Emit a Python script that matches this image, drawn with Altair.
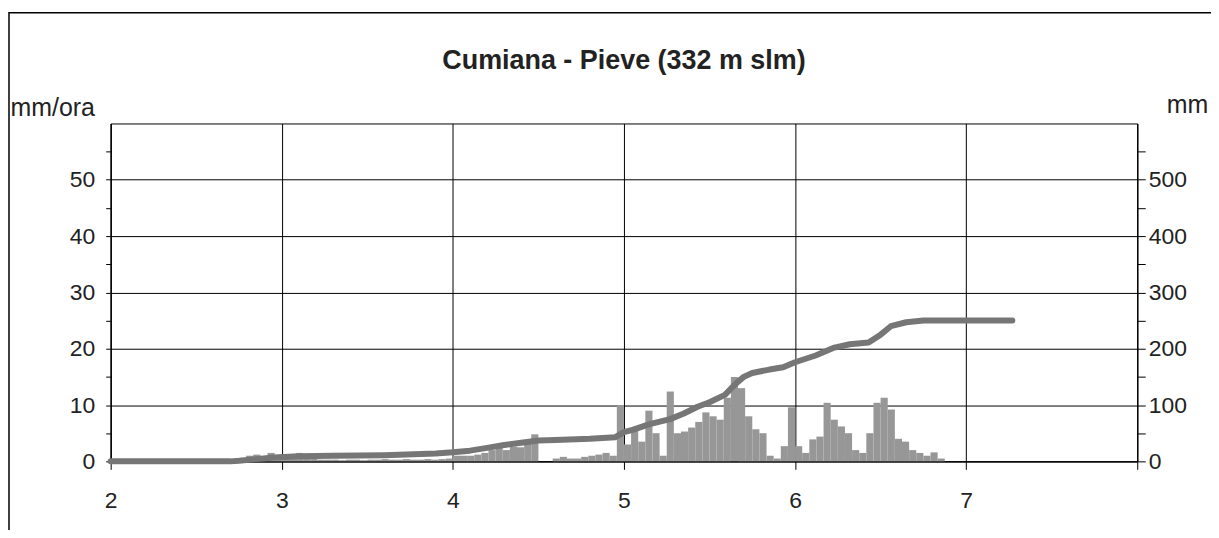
import altair as alt
import pandas as pd

# ---------------- data ----------------
title_text = "Cumiana - Pieve (332 m slm)"
left_title = "mm/ora"
right_title = "mm"

x_tick_values = [2, 3, 4, 5, 6, 7, 8]
x_labels_shown = [2, 3, 4, 5, 6, 7]

# hourly rainfall (mm/ora), one value per hour starting at hour 18 of day 2
rain_first_hour = 18
rain_mm_h = [
    0.5, 1, 1.2, 0.8, 1.5, 1, 0.8, 1, 1.5, 1,
    0.5, 0.3, 0.3, 0.3, 0.2, 0.3, 0.3, 0.2, 0.3, 0.3,
    0.4, 0.3, 0.3, 0.4, 0.3, 0.3, 0.4, 0.3, 0.4, 0.5,
    1, 1, 1, 1.2, 1.5, 2, 2.5, 2, 2.6, 2.5, 3.5, 4.8,
    0, 0, 0.5, 0.8, 0.5, 0.5, 0.8, 1, 1.2, 1.5, 1,
    10, 3, 6, 3.5, 9, 5, 1, 12.4, 5, 5.3,
    6, 7, 8.7, 8, 7.4, 11.3, 15, 13, 8, 5.7, 5,
    1, 0.5, 2.7, 9.6, 2.7, 1.5, 3.9, 4.4, 10.4, 7.4, 6.2, 5, 2, 1.5,
    5, 10.4, 11.3, 9.2, 4, 3.5, 2, 1.5, 1, 1.6, 0.5,
]

# cumulative rainfall (mm)
cum_day = [2.0, 2.7, 2.75, 2.85, 2.95, 3.1, 3.3, 3.6, 3.9, 4.0, 4.1, 4.2, 4.3,
           4.4, 4.5, 4.6, 4.8, 4.95, 5.0, 5.05, 5.15, 5.27, 5.35, 5.43, 5.5,
           5.59, 5.65, 5.7, 5.75, 5.85, 5.93, 6.0, 6.12, 6.23, 6.32, 6.43,
           6.5, 6.56, 6.65, 6.75, 7.27]
cum_mm = [0, 0, 1, 4, 7, 9, 10, 11, 14, 16, 19, 24, 29,
          33, 37, 38, 40, 43, 52, 56, 66, 75, 85, 97, 105,
          118, 137, 150, 157, 163, 167, 176, 188, 202, 208, 211,
          225, 240, 247, 250, 250]

# ---------------- tables ----------------
bars = pd.DataFrame({
    "start": [2 + (rain_first_hour + i) / 24 for i in range(len(rain_mm_h))],
    "end": [2 + (rain_first_hour + i + 1) / 24 for i in range(len(rain_mm_h))],
    "rain": rain_mm_h,
})
cum = pd.DataFrame({"day": cum_day, "mm": cum_mm})

FONT = "Liberation Sans"
W, H = 1030, 339

x_scale = alt.Scale(domain=[2, 8], nice=False, zero=False)
shown = ",".join(str(v) for v in x_labels_shown)
x_axis = alt.Axis(
    values=x_tick_values, format="d",
    labelExpr=f"indexof([{shown}], datum.value) >= 0 ? datum.label : ''",
    title=None, grid=True, gridColor="black", gridWidth=1,
    tickSize=8, tickColor="black", domainColor="black",
    labelFont=FONT, labelFontSize=23, labelColor="#222", labelPadding=20,
    labelFlush=False,
)

left_axis = alt.Axis(
    orient="left",
    values=list(range(0, 60, 5)),
    labelExpr="datum.value % 10 == 0 ? datum.label : ''",
    grid=True, gridColor="black", gridWidth=1,
    gridOpacity={"condition": {"test": "datum.value % 10 == 0", "value": 1}, "value": 0},
    tickSize=5, tickColor="black", domainColor="black",
    labelFont=FONT, labelFontSize=23, labelColor="#222", labelPadding=11,
    title=left_title, titleFont=FONT, titleFontSize=25, titleFontWeight="normal",
    titleColor="#222", titleAngle=0, titleAlign="left", titleBaseline="alphabetic",
    titleX=-101, titleY=-8,
)

right_axis = alt.Axis(
    orient="right",
    values=list(range(0, 600, 50)),
    labelExpr="datum.value % 100 == 0 ? datum.label : ''",
    grid=False,
    tickSize=8, tickColor="black", domainColor="black",
    labelFont=FONT, labelFontSize=23, labelColor="#222", labelPadding=3,
    title=right_title, titleFont=FONT, titleFontSize=25, titleFontWeight="normal",
    titleColor="#222", titleAngle=0, titleAlign="left", titleBaseline="alphabetic",
    titleX=29, titleY=-11,
)

frame = alt.Chart(alt.Data(values=[{"a": 1}])).mark_rect(
    fillOpacity=0, stroke="black", strokeWidth=1.5
).encode(
    x=alt.value(-102), x2=alt.value(1300), y=alt.value(-111), y2=alt.value(600)
)

bar_layer = alt.Chart(bars).mark_rect(color="#979797").encode(
    x=alt.X("start:Q", scale=x_scale, axis=x_axis),
    x2="end:Q",
    y=alt.Y("rain:Q", scale=alt.Scale(domain=[0, 60], nice=False), axis=left_axis),
    y2=alt.datum(0),
)

line_layer = alt.Chart(cum).mark_line(
    color="#767676", strokeWidth=6, strokeCap="round", strokeJoin="round"
).encode(
    x=alt.X("day:Q", scale=x_scale),
    y=alt.Y("mm:Q", scale=alt.Scale(domain=[0, 600], nice=False), axis=right_axis),
)

chart = alt.layer(frame, bar_layer, line_layer).resolve_scale(y="independent").properties(
    width=W, height=H,
    title=alt.TitleParams(
        title_text, font=FONT, fontSize=27, fontWeight="bold", color="#222",
        anchor="middle", frame="group", offset=0, dy=84, baseline="alphabetic",
    ),
    autosize=alt.AutoSizeParams(type="none"),
    padding={"left": 103, "top": 115, "right": 74, "bottom": 68},
    background="white",
).configure_view(stroke="black", strokeWidth=1)

chart.save("out.html", embed_options={"renderer": "svg", "actions": False})
